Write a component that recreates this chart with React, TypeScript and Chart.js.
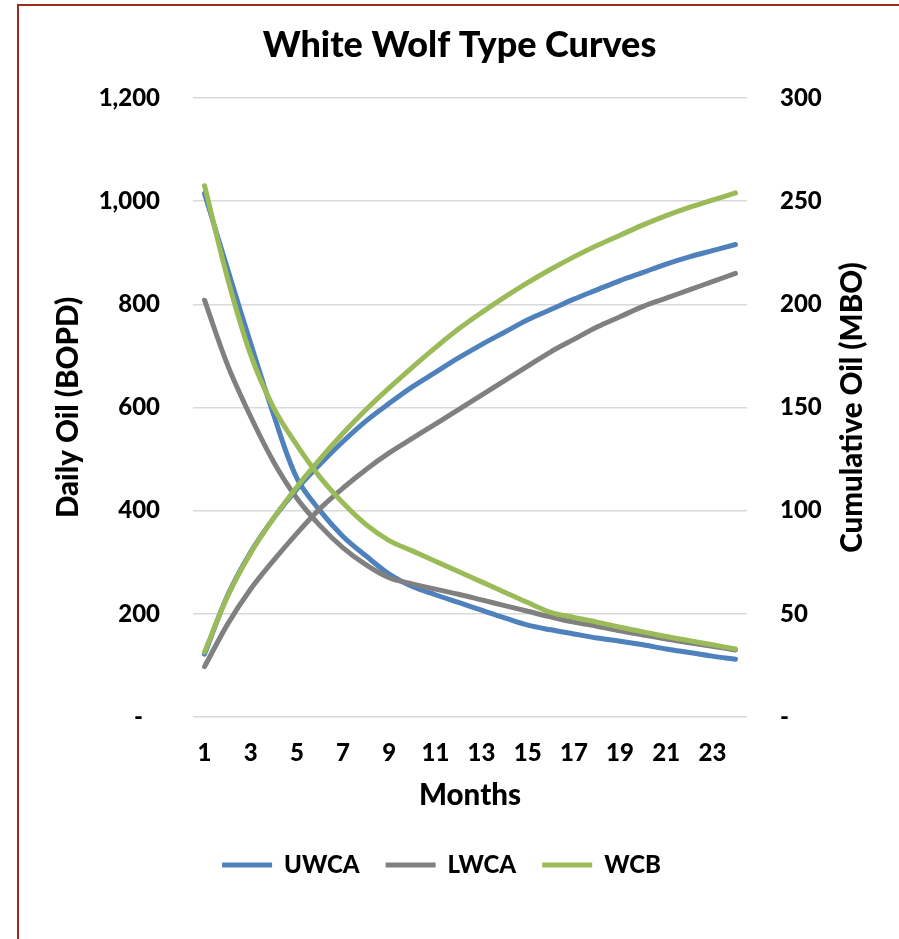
import React, { useEffect, useRef } from 'react';
import { Chart, registerables } from 'chart.js';

Chart.register(...registerables);

const months = ['1', '2', '3', '4', '5', '6', '7', '8', '9', '10', '11', '12', '13', '14', '15', '16', '17', '18', '19', '20', '21', '22', '23', '24'];

// Daily oil (BOPD) - left axis
const uwcaDaily = [1015, 868, 724, 585, 463, 400, 350, 312, 277, 253, 237, 222, 207, 192, 178, 169, 161, 153, 147, 140, 132, 125, 118, 112];
const lwcaDaily = [808, 682, 582, 494, 424, 371, 328, 295, 270, 258, 248, 238, 227, 216, 205, 194, 184, 176, 167, 159, 151, 144, 137, 130];
const wcbDaily = [1030, 850, 702, 599, 527, 465, 415, 373, 342, 322, 302, 282, 262, 242, 222, 203, 193, 184, 174, 165, 156, 148, 140, 132];

// Cumulative oil (MBO) - right axis
const uwcaCum = [30.5, 59, 80, 96.5, 110.5, 122.5, 133.5, 143.5, 152, 160, 167, 174, 180.5, 186.5, 192.5, 197.5, 202.5, 207, 211.5, 215.5, 219.5, 223, 226, 229];
const lwcaCum = [24.4, 45, 62, 76, 89, 101, 111, 120, 128, 135, 142, 149, 156, 163, 170, 177, 183, 189, 194, 199, 203, 207, 211, 215];
const wcbCum = [31.5, 58.5, 79.5, 96.5, 111.5, 125, 137.5, 149, 159.5, 169.5, 179, 188, 196, 203.5, 210.5, 217, 223, 228.5, 233.5, 238.5, 243, 247, 250.5, 254];

const seriesNames = ['UWCA', 'LWCA', 'WCB'];
const leftTickLabels = ['-   ', '200', '400', '600', '800', '1,000', '1,200'];
const rightTickLabels = ['-', '50', '100', '150', '200', '250', '300'];

const chartTitle = 'White Wolf Type Curves';
const leftTitle = 'Daily Oil (BOPD)';
const rightTitle = 'Cumulative Oil (MBO)';
const xTitle = 'Months';

const FONT = 'Lato, "Open Sans", sans-serif';
const WEIGHT = '900';
const BLUE = '#4F81BD';
const GRAY = '#808080';
const GREEN = '#9BBB59';

const rightTitlePlugin = {
  id: 'rightTitle',
  afterDraw(chart: any) {
    const { ctx, chartArea } = chart;
    ctx.save();
    ctx.font = `${WEIGHT} 29.5px ${FONT}`;
    ctx.fillStyle = '#000';
    ctx.textAlign = 'center';
    ctx.textBaseline = 'middle';
    ctx.translate(852, (chartArea.top + chartArea.bottom) / 2);
    ctx.rotate(-Math.PI / 2);
    ctx.fillText(rightTitle, 0, 0);
    ctx.restore();
  },
};

const shiftPlugin = {
  id: 'shiftBoxes',
  afterLayout(chart: any) {
    const t = chart.titleBlock;
    if (t) { t.left += 10; t.right += 10; }
    const l = chart.legend;
    if (l) { l.left -= 8; l.right -= 8; }
  },
};

export default function App() {
  const ref = useRef<HTMLCanvasElement>(null);

  useEffect(() => {
    if (!ref.current) return;
    const mk = (label: string, data: number[], color: string, axis: string, order: number) => ({
      label,
      data,
      borderColor: color,
      backgroundColor: color,
      borderWidth: 5,
      borderCapStyle: 'round',
      borderJoinStyle: 'round',
      pointRadius: 0,
      tension: 0.35,
      fill: false,
      yAxisID: axis,
      order,
    });
    const chart = new Chart(ref.current, {
      type: 'line',
      data: {
        labels: months,
        datasets: [
          mk(seriesNames[0], uwcaDaily, BLUE, 'y', 2),
          mk(seriesNames[1], lwcaDaily, GRAY, 'y', 1),
          mk(seriesNames[2], wcbDaily, GREEN, 'y', 0),
          mk(seriesNames[0], uwcaCum, BLUE, 'y1', 2),
          mk(seriesNames[1], lwcaCum, GRAY, 'y1', 1),
          mk(seriesNames[2], wcbCum, GREEN, 'y1', 0),
        ] as any,
      },
      options: {
        responsive: false,
        animation: false,
        layout: { padding: { left: 0, right: 0, top: 0, bottom: 52 } },
        plugins: {
          title: {
            display: true,
            text: chartTitle,
            color: '#000',
            font: { family: FONT, size: 36, weight: WEIGHT },
            padding: { top: 23.4, bottom: 31.4 },
          },
          legend: {
            position: 'bottom',
            labels: {
              usePointStyle: true,
              pointStyle: 'line',
              pointStyleWidth: 50,
              color: '#000',
              padding: 26,
              font: { family: FONT, size: 24, weight: WEIGHT },
              filter: (item: any) => item.datasetIndex < 3,
              sort: (a: any, b: any) => a.datasetIndex - b.datasetIndex,
            },
          },
          tooltip: { enabled: false },
        },
        scales: {
          x: {
            offset: true,
            grid: { display: false, drawTicks: false },
            border: { display: false },
            ticks: {
              autoSkip: false,
              maxRotation: 0,
              color: '#000',
              padding: 21.6,
              font: { family: FONT, size: 24, weight: WEIGHT },
              callback: function (this: any, value: any, index: number) {
                return index % 2 === 0 ? months[index] : '';
              },
            },
            title: {
              display: true,
              text: xTitle,
              color: '#000',
              font: { family: FONT, size: 29.5, weight: WEIGHT },
              padding: { top: 0, bottom: 14.3 },
            },
            afterFit: (s: any) => { s.height = 110; },
          },
          y: {
            position: 'left',
            min: 0,
            max: 1200,
            grid: { color: '#d9d9d9', lineWidth: 1.5, drawTicks: false },
            border: { display: false },
            ticks: {
              stepSize: 200,
              color: '#000',
              padding: 33,
              font: { family: FONT, size: 24, weight: WEIGHT },
              callback: (value: any) => leftTickLabels[Math.round(Number(value) / 200)],
            },
            title: {
              display: true,
              text: leftTitle,
              color: '#000',
              font: { family: FONT, size: 29.5, weight: WEIGHT },
              padding: { top: 50.3, bottom: 0 },
            },
            afterFit: (s: any) => { s.width = 193; },
          },
          y1: {
            position: 'right',
            min: 0,
            max: 300,
            grid: { display: false, drawTicks: false },
            border: { display: false },
            ticks: {
              stepSize: 50,
              color: '#000',
              padding: 33,
              font: { family: FONT, size: 24, weight: WEIGHT },
              callback: (value: any) => rightTickLabels[Math.round(Number(value) / 50)],
            },
            afterFit: (s: any) => { s.width = 152; },
          },
        },
      } as any,
      plugins: [rightTitlePlugin, shiftPlugin],
    });
    return () => chart.destroy();
  }, []);

  return (
    <div style={{ position: 'absolute', left: 0, top: 0, width: 899, height: 939, overflow: 'hidden', background: '#fff' }}>
      <div style={{ position: 'absolute', left: 17, top: 4, width: 1000, height: 1000, border: '2px solid #9c2b1e', boxSizing: 'border-box' }} />
      <canvas ref={ref} width={899} height={939} style={{ position: 'absolute', left: 0, top: 0, width: 899, height: 939 }} />
    </div>
  );
}
